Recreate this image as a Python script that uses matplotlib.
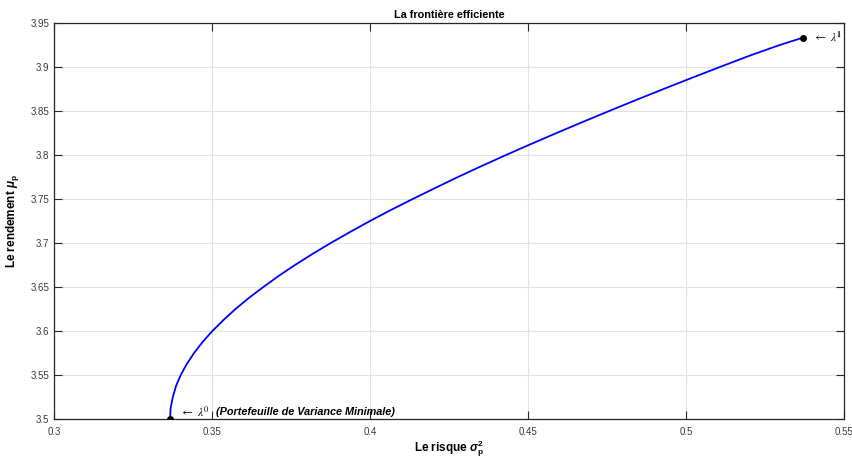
import matplotlib
matplotlib.use("Agg")
import matplotlib.pyplot as plt

# Efficient frontier: portfolio variance (risk) against expected return
risk = [0.3366, 0.3368, 0.3375, 0.3385, 0.3400, 0.3419, 0.3442, 0.3469,
        0.3500, 0.3535, 0.3573, 0.3615, 0.3661, 0.3709, 0.3761, 0.3816,
        0.3874, 0.3935, 0.3998, 0.4064, 0.4133, 0.4204, 0.4276, 0.4351,
        0.4428, 0.4507, 0.4588, 0.4670, 0.4754, 0.4839, 0.4926, 0.5014,
        0.5104, 0.5195, 0.5293, 0.5368]
ret = [3.5000, 3.5125, 3.5250, 3.5375, 3.5500, 3.5625, 3.5750, 3.5875,
       3.6000, 3.6125, 3.6250, 3.6375, 3.6500, 3.6625, 3.6750, 3.6875,
       3.7000, 3.7125, 3.7250, 3.7375, 3.7500, 3.7625, 3.7750, 3.7875,
       3.8000, 3.8125, 3.8250, 3.8375, 3.8500, 3.8625, 3.8750, 3.8875,
       3.9000, 3.9125, 3.9250, 3.9336]

# End points of the frontier (lambda = 0 and lambda = 1)
min_var_point = (0.3366, 3.500)
max_ret_point = (0.5368, 3.9336)

x_ticks = [0.30, 0.35, 0.40, 0.45, 0.50, 0.55]
x_labels = ["0.3", "0.35", "0.4", "0.45", "0.5", "0.55"]
y_ticks = [3.50, 3.55, 3.60, 3.65, 3.70, 3.75, 3.80, 3.85, 3.90, 3.95]
y_labels = ["3.5", "3.55", "3.6", "3.65", "3.7", "3.75", "3.8", "3.85", "3.9", "3.95"]

plt.rcParams["font.family"] = ["Liberation Sans", "DejaVu Sans"]
plt.rcParams["mathtext.fontset"] = "custom"
plt.rcParams["mathtext.rm"] = "Liberation Sans"
plt.rcParams["mathtext.it"] = "Liberation Sans:italic:bold"
plt.rcParams["mathtext.bf"] = "Liberation Sans:bold"

fig = plt.figure(figsize=(8.53, 4.61), dpi=100)
ax = fig.add_axes([0.0637, 0.0911, 0.9262, 0.8584])

ax.plot(risk, ret, color="#0000ff", lw=1.3, zorder=3)
ax.plot(*min_var_point, "o", color="black", ms=4, zorder=4)
ax.plot(*max_ret_point, "o", color="black", ms=4, zorder=4)

ax.set_xlim(0.30, 0.55)
ax.set_ylim(3.50, 3.95)
ax.set_xticks(x_ticks)
ax.set_xticklabels(x_labels)
ax.set_yticks(y_ticks)
ax.set_yticklabels(y_labels)

ax.grid(True, color="#e2e2e2", lw=0.8)
ax.set_axisbelow(True)
ax.tick_params(direction="in", length=5.7, width=0.8, top=True, right=True,
               labelsize=7, labelcolor="#3a3a3a", color="#262626")
ax.tick_params(axis="y", pad=3.5)
ax.tick_params(axis="x", pad=6)
for sp in ax.spines.values():
    sp.set_color("#262626")
    sp.set_linewidth(0.9)

ax.set_title("La frontière efficiente", fontsize=7.8, fontweight="bold", pad=4)
ax.set_xlabel(r"Le risque $\sigma_{\mathbf{p}}^{\mathbf{2}}$", fontsize=8.5,
              fontweight="bold", labelpad=1)
ax.set_ylabel(r"Le rendement $\mu_{\mathbf{p}}$", fontsize=8.5,
              fontweight="bold", labelpad=7)

ax.annotate(r"$\leftarrow\ \lambda^{0}$", xy=min_var_point, xytext=(7, 4.3),
            textcoords="offset points", va="center", ha="left", fontsize=8.5,
            math_fontfamily="stix", annotation_clip=False)
ax.annotate("(Portefeuille de Variance Minimale)", xy=min_var_point,
            xytext=(33, 4.8), textcoords="offset points", va="center",
            ha="left", fontsize=7.8, fontweight="bold", fontstyle="italic",
            annotation_clip=False)
ax.annotate(r"$\leftarrow\ \lambda^{\mathbf{1}}$", xy=max_ret_point,
            xytext=(7.5, 0), textcoords="offset points", va="center",
            ha="left", fontsize=8.5, math_fontfamily="stix",
            annotation_clip=False)

fig.savefig("out.png", dpi=100)
